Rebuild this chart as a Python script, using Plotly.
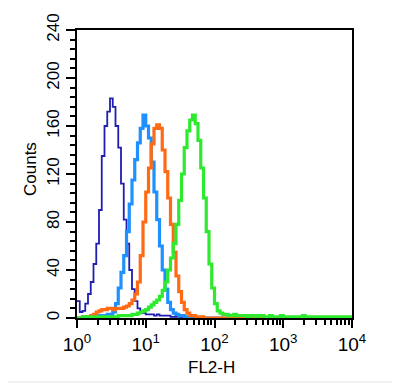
import plotly.graph_objects as go

# Histogram channels: 100 bins of 0.04 decade from 10^0 to 10^4
bin_log_edges = [i * 0.04 for i in range(101)]
channel_edges = [10 ** v for v in bin_log_edges]

dark_blue = [14, 5, 6, 12, 20, 30, 45, 62, 90, 135,
             160, 172, 183, 176, 160, 142, 112, 82, 62, 40,
             24, 14, 8, 5, 4, 3, 3, 3, 2, 3,
             2, 2, 2, 2, 1, 1, 1, 1, 0, 0,
             0, 0, 0, 0, 0, 0, 0, 0, 0, 0,
             0, 0, 0, 0, 0, 0, 0, 0, 0, 0,
             0, 0, 0, 0, 0, 0, 0, 0, 0, 0,
             0, 0, 0, 0, 0, 0, 0, 0, 0, 0,
             0, 0, 0, 0, 0, 0, 0, 0, 0, 0,
             0, 0, 0, 0, 0, 0, 0, 0, 0, 0]

light_blue = [0, 0, 1, 1, 1, 1, 1, 2, 2, 2,
              2, 3, 3, 5, 12, 25, 38, 52, 72, 95,
              115, 132, 146, 158, 169, 160, 150, 130, 105, 82,
              60, 40, 24, 13, 7, 4, 3, 2, 2, 1,
              1, 0, 0, 0, 0, 0, 0, 0, 0, 0,
              0, 0, 0, 0, 0, 0, 0, 0, 0, 0,
              0, 0, 0, 0, 0, 0, 0, 0, 0, 0,
              0, 0, 0, 0, 0, 0, 0, 0, 0, 0,
              0, 0, 0, 0, 0, 0, 0, 0, 0, 0,
              0, 0, 0, 0, 0, 0, 0, 0, 0, 0]

orange = [0, 0, 0, 1, 1, 2, 3, 5, 6, 7,
          7, 8, 8, 7, 8, 8, 8, 9, 10, 12,
          15, 20, 30, 52, 80, 105, 125, 145, 158, 161,
          158, 140, 122, 100, 78, 55, 35, 22, 13, 7,
          4, 2, 2, 1, 1, 1, 0, 0, 0, 0,
          0, 0, 0, 0, 0, 0, 0, 0, 0, 0,
          0, 0, 0, 0, 0, 0, 0, 0, 0, 0,
          0, 0, 0, 0, 0, 0, 0, 0, 0, 0,
          0, 0, 0, 0, 0, 0, 0, 0, 0, 0,
          0, 0, 0, 0, 0, 0, 0, 0, 0, 0]

green = [0, 0, 1, 1, 1, 1, 1, 1, 1, 1,
         1, 1, 1, 1, 1, 2, 2, 2, 2, 2,
         3, 3, 4, 5, 6, 7, 9, 11, 13, 15,
         18, 23, 30, 40, 50, 62, 78, 98, 120, 142,
         156, 165, 169, 162, 148, 125, 100, 72, 45, 25,
         12, 6, 4, 3, 3, 2, 2, 3, 2, 2,
         2, 2, 1, 2, 2, 1, 2, 2, 1, 1,
         2, 1, 1, 1, 2, 1, 1, 1, 1, 1,
         1, 1, 2, 1, 1, 1, 1, 1, 1, 1,
         1, 1, 1, 1, 1, 1, 1, 1, 1, 1]

x_tick_vals = [1, 10, 100, 1000, 10000]
x_tick_text = ["10<sup>0</sup>", "10<sup>1</sup>", "10<sup>2</sup>",
               "10<sup>3</sup>", "10<sup>4</sup>"]
y_tick_vals = [0, 40, 80, 120, 160, 200, 240]
y_tick_text = ["0", "40", "80", "120", "160", "200", "240"]
x_minor_vals = [m * d for d in [1, 10, 100, 1000] for m in range(2, 10)]

series = [
    ("dark", dark_blue, "#1E1EB0", 1.8),
    ("light", light_blue, "#1E90FF", 3.2),
    ("orange", orange, "#FF6A14", 3.2),
    ("green", green, "#2EEA2E", 3.2),
]

fig = go.Figure()
for name, vals, color, w in series:
    fig.add_trace(go.Scatter(
        x=channel_edges, y=vals + [vals[-1]],
        mode="lines", line=dict(shape="hv", color=color, width=w),
        name=name, showlegend=False, hoverinfo="skip",
    ))

# page body adds an 8px offset; figure is sized/margined to compensate
W, H = 392, 378
L, R, T, B = 69, 48, 22, 68
PW, PH = W - L - R, H - T - B  # 275 x 288

font = "Liberation Sans, Arial, sans-serif"
fig.update_layout(
    width=W, height=H,
    margin=dict(l=L, r=R, t=T, b=B, autoexpand=False),
    paper_bgcolor="white", plot_bgcolor="white",
    font=dict(family=font, size=18, color="black"),
    xaxis=dict(
        type="log", range=[0, 4], showgrid=False, zeroline=False,
        showline=True, linecolor="black", linewidth=2, mirror=True,
        ticks="outside", ticklen=8, tickwidth=1.5, tickcolor="black",
        tickvals=x_tick_vals, ticktext=x_tick_text,
        tickfont=dict(size=19),
        minor=dict(tickvals=x_minor_vals, ticks="outside", ticklen=5,
                   tickwidth=1.5, tickcolor="black", showgrid=False),
    ),
    yaxis=dict(
        range=[0, 240], showgrid=False, zeroline=False,
        showline=True, linecolor="black", linewidth=2, mirror=True,
        ticks="outside", ticklen=9, tickwidth=1.5, tickcolor="black",
        tickvals=y_tick_vals, ticktext=y_tick_text, tickangle=-90,
        tickfont=dict(size=17),
        minor=dict(dtick=8, tick0=0, ticks="outside", ticklen=5,
                   tickwidth=1.5, tickcolor="black", showgrid=False),
    ),
    annotations=[
        dict(text="Counts", xref="paper", yref="paper",
             x=(30 - 77) / PW, y=(318 - 169) / PH, textangle=-90,
             showarrow=False, font=dict(size=17),
             xanchor="center", yanchor="middle"),
        dict(text="FL2-H", xref="paper", yref="paper",
             x=(211.5 - 77) / PW, y=(318 - 367) / PH,
             showarrow=False, font=dict(size=17),
             xanchor="center", yanchor="middle"),
    ],
    shapes=[
        dict(type="line", xref="paper", yref="paper",
             x0=(398.5 - 77) / PW, x1=(398.5 - 77) / PW,
             y0=(318 - 382) / PH, y1=(318 - 8) / PH,
             line=dict(color="#E2E2E2", width=1), layer="below"),
        dict(type="line", xref="paper", yref="paper",
             x0=(8 - 77) / PW, x1=(398.5 - 77) / PW,
             y0=(318 - 382) / PH, y1=(318 - 382) / PH,
             line=dict(color="#E2E2E2", width=1), layer="below"),
    ],
)

fig.write_html("out.html")
